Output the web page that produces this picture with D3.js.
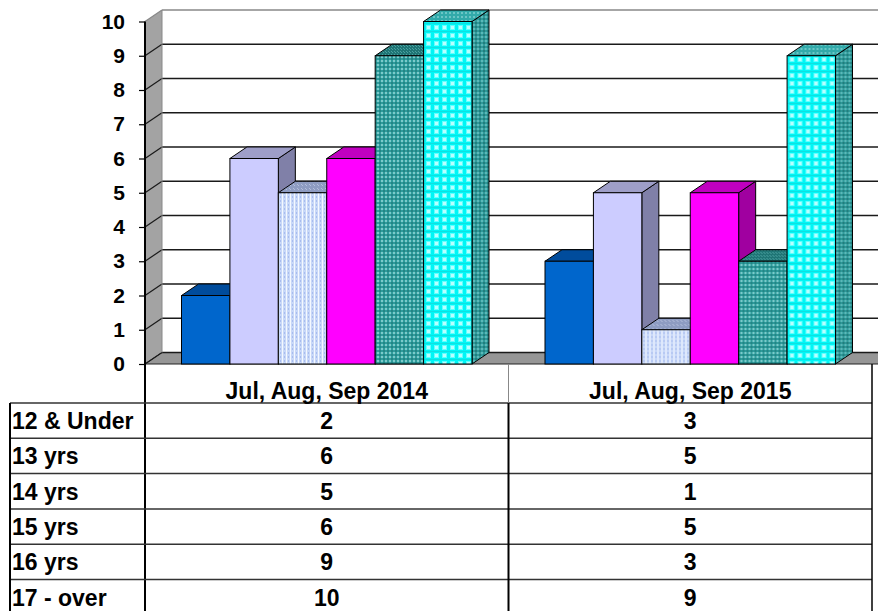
<!DOCTYPE html>
<html>
<head>
<meta charset="utf-8">
<script src="https://cdn.jsdelivr.net/npm/d3@7"></script>
<style>
  body { margin: 0; background: #fff; }
  text { font-family: "Liberation Sans", Arial, sans-serif; font-weight: bold; fill: #000; }
</style>
</head>
<body>
<div id="chart"></div>
<script>
const periods = ["Jul, Aug, Sep 2014", "Jul, Aug, Sep 2015"];
const ageGroups = ["12 & Under", "13 yrs", "14 yrs", "15 yrs", "16 yrs", "17 - over"];
const values2014 = [2, 6, 5, 6, 9, 10];
const values2015 = [3, 5, 1, 5, 3, 9];
const yTicks = [0, 1, 2, 3, 4, 5, 6, 7, 8, 9, 10];

const width = 878;
const height = 611;
const left = 145;      // front axis
const right = 872;     // table right edge
const floorY = 364;    // front floor edge
const dx = 17, dy = -11.5;  // 3d depth offset
const rowH = 35.3;
const headerBottom = 403;
const tableFont = 23;

const seriesByPeriod = [values2014, values2015];

const svg = d3.select('#chart')
    .append('svg')
    .attr('width', width)
    .attr('height', height);

const defs = svg.append('defs');

// fill patterns
function pattern(id, w, h, bg, rects) {
    const p = defs.append('pattern')
        .attr('id', id)
        .attr('patternUnits', 'userSpaceOnUse')
        .attr('width', w)
        .attr('height', h);
    p.append('rect').attr('width', w).attr('height', h).attr('fill', bg);
    rects.forEach(r => {
        p.append('rect').attr('x', r[0]).attr('y', r[1]).attr('width', r[2]).attr('height', r[3]).attr('fill', r[4]);
    });
}
pattern('p14front', 4, 4, '#c8d8f8', [[1, 0, 1, 4, '#f4f8ff'], [3, 0, 1, 2, '#a8bcee']]);
pattern('p14top', 4, 4, '#8e9cc2', [[0, 0, 1, 1, '#b4bedc'], [1, 1, 1, 1, '#b4bedc']]);
pattern('p16front', 4, 4, '#2e9c9c', [[0, 0, 2, 2, '#7ccaca'], [2, 2, 2, 2, '#238585']]);
pattern('p16top', 3, 3, '#1f7575', [[0, 0, 1, 1, '#4aa0a0'], [1, 1, 1, 1, '#4aa0a0']]);
pattern('p17front', 8, 8, '#00f6f6', [[1, 1, 5, 5, '#60ffff'], [2, 2, 3, 3, '#b8ffff'], [0, 7, 8, 1, '#10e0e0']]);
pattern('p17top', 4, 4, '#32aaaa', [[0, 0, 2, 2, '#6cc6c6']]);
pattern('p17side', 4, 4, '#2e9a9a', [[0, 0, 2, 2, '#5cb8b8'], [2, 2, 2, 2, '#227d7d']]);

const faces = [
    { front: '#0066cc', top: '#004c9c', side: '#00468e' },
    { front: '#ccccff', top: '#9e9ec8', side: '#8080a8' },
    { front: 'url(#p14front)', top: 'url(#p14top)', side: 'url(#p14top)' },
    { front: '#ff00ff', top: '#c000c0', side: '#a000a0' },
    { front: 'url(#p16front)', top: 'url(#p16top)', side: 'url(#p16top)' },
    { front: 'url(#p17front)', top: 'url(#p17top)', side: 'url(#p17side)' }
];

const yScale = d3.scaleLinear().domain([0, 10]).range([floorY, 21.5]);
const xGroup = d3.scaleBand().domain(periods).range([left, right]);
const xBar = d3.scaleBand().domain(ageGroups).range([36.5, xGroup.bandwidth() - 36.5]);

// side wall
svg.append('polygon')
    .attr('points', [[left, yScale(10)], [left + dx, yScale(10) + dy], [left + dx, floorY + dy], [left, floorY]].join(' '))
    .attr('fill', '#a3a3a3');

// floor
svg.append('polygon')
    .attr('points', [[left, floorY], [left + dx, floorY + dy], [right + 18 + dx, floorY + dy], [right + 18, floorY]].join(' '))
    .attr('fill', '#969696')
    .attr('stroke', '#222')
    .attr('stroke-width', 1);

// gridlines: back wall + side wall
const grid = svg.append('g');
yTicks.forEach(t => {
    const y = yScale(t);
    const col = t === 10 ? '#888' : '#1a1a1a';
    grid.append('line')
        .attr('x1', left + dx).attr('x2', width)
        .attr('y1', y + dy).attr('y2', y + dy)
        .attr('stroke', col).attr('stroke-width', 1.4);
    grid.append('line')
        .attr('x1', left).attr('x2', left + dx)
        .attr('y1', y).attr('y2', y + dy)
        .attr('stroke', col).attr('stroke-width', 1.2);
});
svg.append('line')
    .attr('x1', left + dx).attr('x2', left + dx)
    .attr('y1', yScale(10) + dy).attr('y2', floorY + dy)
    .attr('stroke', '#888').attr('stroke-width', 1);

// bars
periods.forEach((p, gi) => {
    const g = svg.append('g').attr('transform', 'translate(' + xGroup(p) + ',0)');
    const vals = seriesByPeriod[gi];
    ageGroups.forEach((a, i) => {
        const x = xBar(a);
        const w = xBar.bandwidth();
        const yv = yScale(vals[i]);
        const f = faces[i];
        g.append('polygon')
            .attr('points', [[x + w, yv], [x + w + dx, yv + dy], [x + w + dx, floorY + dy], [x + w, floorY]].join(' '))
            .attr('fill', f.side).attr('stroke', '#000').attr('stroke-width', 1);
        g.append('polygon')
            .attr('points', [[x, yv], [x + w, yv], [x + w + dx, yv + dy], [x + dx, yv + dy]].join(' '))
            .attr('fill', f.top).attr('stroke', '#000').attr('stroke-width', 1);
        g.append('rect')
            .attr('x', x).attr('y', yv)
            .attr('width', w).attr('height', floorY - yv)
            .attr('fill', f.front).attr('stroke', '#000').attr('stroke-width', 1);
    });
});

// y axis
const yAxis = svg.append('g')
    .attr('transform', 'translate(' + left + ',0)')
    .call(d3.axisLeft(yScale).tickValues(yTicks).tickSize(6).tickPadding(14));
yAxis.select('.domain').remove();
yAxis.selectAll('line').attr('stroke', '#000').attr('stroke-width', 1.2);
yAxis.selectAll('text').attr('font-size', 21).attr('font-family', null);

// front axis line, running down through the table
svg.append('line')
    .attr('x1', left).attr('x2', left)
    .attr('y1', yScale(10)).attr('y2', height)
    .attr('stroke', '#000').attr('stroke-width', 2);

// data table
const table = svg.append('g');
table.append('line')
    .attr('x1', 10).attr('x2', right)
    .attr('y1', headerBottom).attr('y2', headerBottom)
    .attr('stroke', '#333').attr('stroke-width', 1.5);
ageGroups.forEach((a, i) => {
    const y = headerBottom + (i + 1) * rowH;
    table.append('line')
        .attr('x1', 10).attr('x2', right)
        .attr('y1', y).attr('y2', y)
        .attr('stroke', '#333').attr('stroke-width', 1.5);
});
table.append('line')
    .attr('x1', 10).attr('x2', 10)
    .attr('y1', headerBottom).attr('y2', height)
    .attr('stroke', '#000').attr('stroke-width', 2);
table.append('line')
    .attr('x1', right).attr('x2', right)
    .attr('y1', floorY).attr('y2', height)
    .attr('stroke', '#000').attr('stroke-width', 1.5);
table.append('line')
    .attr('x1', xGroup(periods[1])).attr('x2', xGroup(periods[1]))
    .attr('y1', floorY).attr('y2', headerBottom)
    .attr('stroke', '#888').attr('stroke-width', 1);
table.append('line')
    .attr('x1', xGroup(periods[1])).attr('x2', xGroup(periods[1]))
    .attr('y1', headerBottom).attr('y2', height)
    .attr('stroke', '#000').attr('stroke-width', 2);

// header labels
periods.forEach(p => {
    table.append('text')
        .attr('x', xGroup(p) + xGroup.bandwidth() / 2)
        .attr('y', 398.5)
        .attr('text-anchor', 'middle')
        .attr('font-size', tableFont)
        .text(p);
});

// rows
ageGroups.forEach((a, i) => {
    const yb = headerBottom + i * rowH + 26;
    table.append('text')
        .attr('x', 12).attr('y', yb)
        .attr('font-size', tableFont)
        .text(a);
    periods.forEach((p, gi) => {
        table.append('text')
            .attr('x', xGroup(p) + xGroup.bandwidth() / 2)
            .attr('y', yb)
            .attr('text-anchor', 'middle')
            .attr('font-size', tableFont)
            .text(seriesByPeriod[gi][i]);
    });
});
</script>
</body>
</html>
